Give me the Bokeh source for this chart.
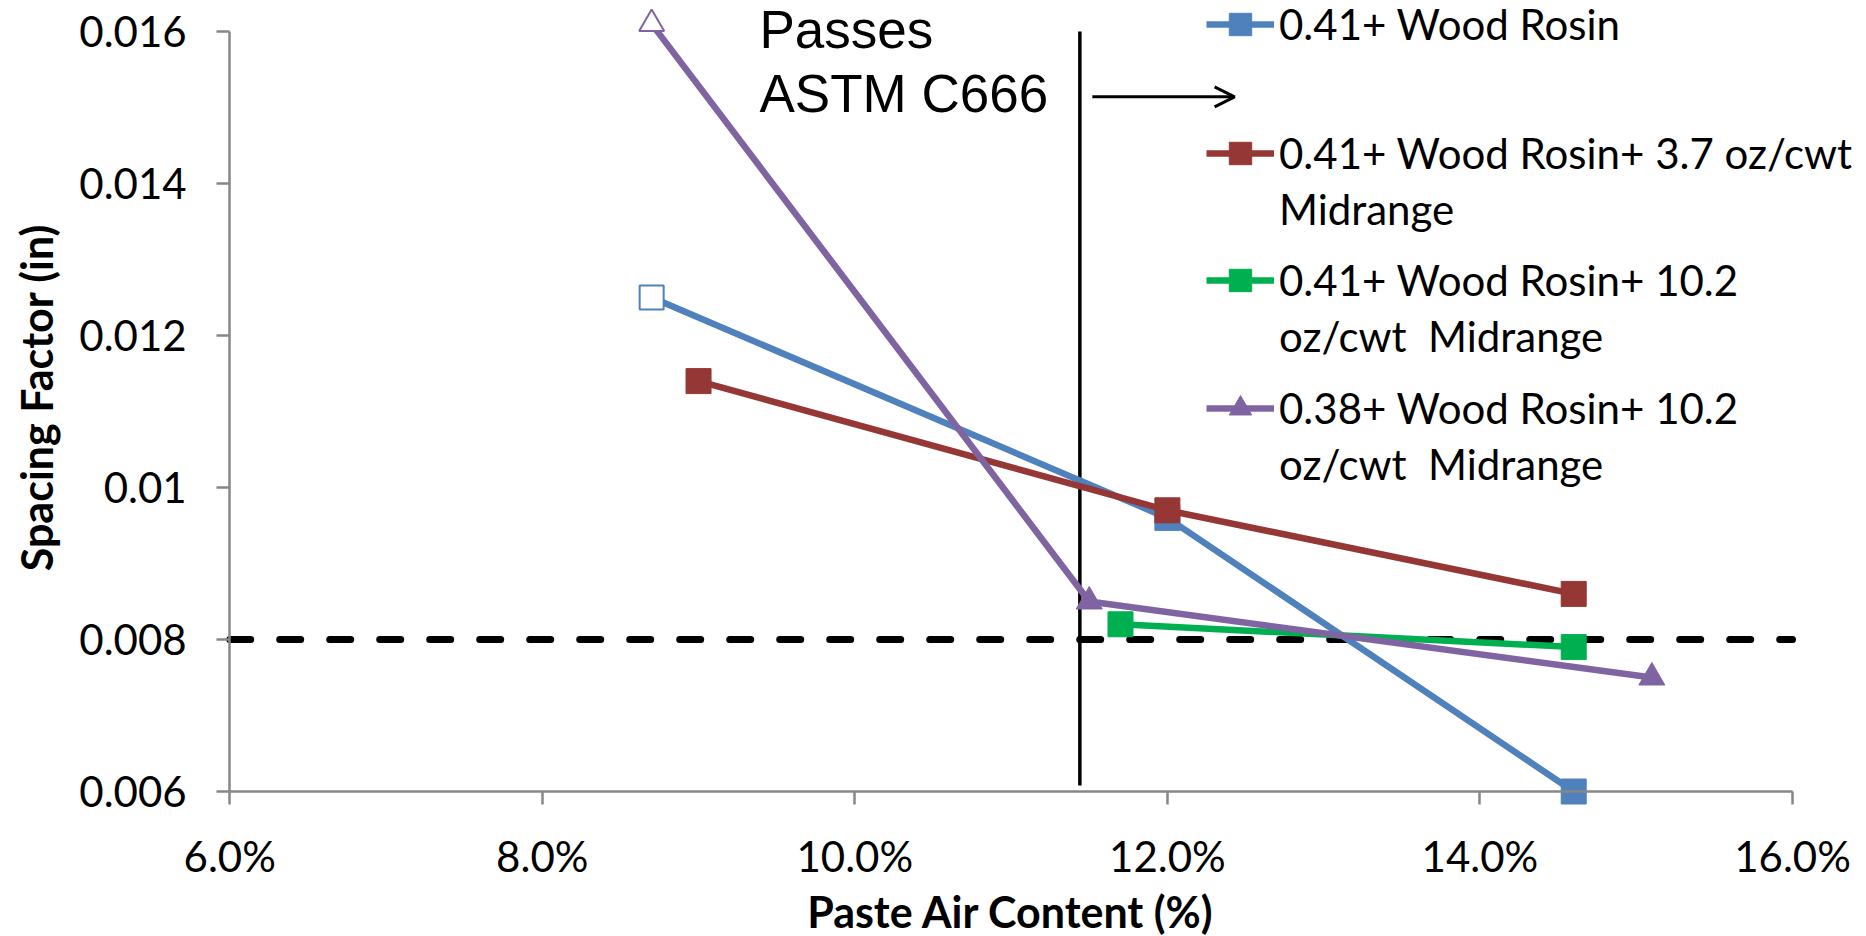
import math
from bokeh.plotting import figure
from bokeh.models import (FixedTicker, NumeralTickFormatter, Legend, LegendItem,
                          Label, Arrow, OpenHead, Range1d)
from bokeh.embed import file_html
from bokeh.resources import INLINE

# ---------------- data ----------------
s1_label = ["0.41+ Wood Rosin"]
s1_x = [0.087, 0.120, 0.146]
s1_y = [0.0125, 0.0096, 0.0060]

s2_label = ["0.41+ Wood Rosin+ 3.7 oz/cwt", "Midrange"]
s2_x = [0.090, 0.120, 0.146]
s2_y = [0.0114, 0.0097, 0.0086]

s3_label = ["0.41+ Wood Rosin+ 10.2", "oz/cwt  Midrange"]
s3_x = [0.117, 0.146]
s3_y = [0.0082, 0.0079]

s4_label = ["0.38+ Wood Rosin+ 10.2", "oz/cwt  Midrange"]
s4_x = [0.087, 0.115, 0.151]
s4_y = [0.0161, 0.0085, 0.0075]

x_ticks = [0.06, 0.08, 0.10, 0.12, 0.14, 0.16]
y_ticks = [0.006, 0.008, 0.010, 0.012, 0.014, 0.016]
y_tick_labels = ["0.006", "0.008", "0.01", "0.012", "0.014", "0.016"]

spec_limit = 0.008          # dashed limit line
passes_x = 0.1144           # vertical "passes" line
passes_y = [0.00608, 0.0160]
arrow_x = [0.1152, 0.1243]
arrow_y = 0.01514
note_lines = ["Passes", "ASTM C666"]
note_x = 0.0939
note_y = [0.016026, 0.015183]

x_axis_title = "Paste Air Content (%)"
y_axis_title = "Spacing Factor (in)"

# ---------------- style ----------------
BLUE = "#4F81BD"
RED = "#953735"
GREEN = "#00B050"
PURPLE = "#8064A2"
AXIS_GREY = "#878787"
FONT = "Lato"
FS = "42px"
TITLE_FS = "43px"
LW = 6.5

x_lo, x_hi = 0.06, 0.16
y_lo, y_hi = 0.006, 0.016
W, H = 1866, 936
yaxis_px = 229.2         # pixel column of the y axis line
xaxis_px = 791           # pixel row of the x axis line
px_per_x = (1792 - yaxis_px) / (x_hi - x_lo)
px_per_y = (xaxis_px - 31) / (y_hi - y_lo)

# the frame covers the whole canvas; both axes are pinned at the data origin
p = figure(width=W, height=H, output_backend="svg", toolbar_location=None,
           x_range=Range1d(x_lo - yaxis_px / px_per_x, x_lo + (W - yaxis_px) / px_per_x),
           y_range=Range1d(y_lo - (H - xaxis_px) / px_per_y, y_lo + xaxis_px / px_per_y),
           min_border_left=0, min_border_right=0, min_border_top=0,
           min_border_bottom=0)
p.outline_line_color = None
p.grid.visible = False
p.background_fill_color = "white"

# axes
p.xaxis.ticker = FixedTicker(ticks=x_ticks)
p.xaxis.formatter = NumeralTickFormatter(format="0.0%")
p.xaxis.bounds = (x_lo, x_hi)
p.xaxis.fixed_location = y_lo
p.yaxis.ticker = FixedTicker(ticks=y_ticks)
p.yaxis.major_label_overrides = {t: l for t, l in zip(y_ticks, y_tick_labels)}
p.yaxis.bounds = (y_lo, y_hi)
p.yaxis.fixed_location = x_lo
for ax in (p.xaxis, p.yaxis):
    ax.axis_line_color = AXIS_GREY
    ax.axis_line_width = 2.5
    ax.major_tick_line_color = AXIS_GREY
    ax.major_tick_line_width = 2.5
    ax.major_tick_out = 13
    ax.major_tick_in = 0
    ax.minor_tick_line_color = None
    ax.major_label_text_font = FONT
    ax.major_label_text_font_size = FS
    ax.major_label_text_color = "black"
p.xaxis.major_label_standoff = 26
p.yaxis.major_label_standoff = 30

# axis titles
p.add_layout(Label(x=(x_lo + x_hi) / 2, y=y_lo, y_offset=-(911 - xaxis_px),
                   text=x_axis_title, text_font=FONT, text_font_size=TITLE_FS,
                   text_font_style="bold", text_color="black",
                   text_align="center", text_baseline="middle"))
p.add_layout(Label(x=x_lo, x_offset=-(yaxis_px - 36), y=y_lo + (xaxis_px - 397) / px_per_y,
                   angle=math.pi / 2, text=y_axis_title, text_font=FONT,
                   text_font_size=TITLE_FS, text_font_style="bold", text_color="black",
                   text_align="center", text_baseline="middle"))

# reference lines
p.segment(x0=[x_lo], y0=[spec_limit], x1=[x_hi], y1=[spec_limit],
          line_color="black", line_width=7, line_dash="21 29", line_cap="round")
p.segment(x0=[passes_x], y0=[passes_y[0]], x1=[passes_x], y1=[passes_y[1]],
          line_color="black", line_width=3.5)
p.add_layout(Arrow(end=OpenHead(size=20, line_width=3, line_color="black"),
                   x_start=arrow_x[0], y_start=arrow_y, x_end=arrow_x[1], y_end=arrow_y,
                   line_width=3, line_color="black"))
for txt, yy in zip(note_lines, note_y):
    p.add_layout(Label(x=note_x, y=yy, text=txt, text_font="Liberation Sans",
                       text_font_size="53px", text_color="black",
                       text_baseline="alphabetic", text_align="left"))

# series
l1 = p.line(s1_x, s1_y, line_color=BLUE, line_width=LW, line_join="round")
m1a = p.scatter(s1_x[:1], s1_y[:1], marker="square", size=24, fill_color="white",
                line_color=BLUE, line_width=2)
m1 = p.scatter(s1_x[1:], s1_y[1:], marker="square", size=25, fill_color=BLUE, line_color=BLUE)

l2 = p.line(s2_x, s2_y, line_color=RED, line_width=LW, line_join="round")
m2 = p.scatter(s2_x, s2_y, marker="square", size=25, fill_color=RED, line_color=RED)

l3 = p.line(s3_x, s3_y, line_color=GREEN, line_width=LW, line_join="round")
m3 = p.scatter(s3_x, s3_y, marker="square", size=25, fill_color=GREEN, line_color=GREEN)

l4 = p.line(s4_x, s4_y, line_color=PURPLE, line_width=LW, line_join="round")
m4a = p.scatter(s4_x[:1], s4_y[:1], marker="triangle", size=25, fill_color="white",
                line_color=PURPLE, line_width=2)
m4 = p.scatter(s4_x[1:], s4_y[1:], marker="triangle", size=26, fill_color=PURPLE,
               line_color=PURPLE)

dummy = p.line(x=[], y=[], line_alpha=0)

# legends (one block per series, placed as in the reference)
leg_x = 1206
row_h = 56
blocks = [
    (s1_label, [l1, m1], 24),
    (s2_label, [l2, m2], 153),
    (s3_label, [l3, m3], 280),
    (s4_label, [l4, m4], 408),
]
for labels, rends, first_center in blocks:
    items = [LegendItem(label=labels[0], renderers=rends)]
    for extra in labels[1:]:
        items.append(LegendItem(label=extra, renderers=[dummy]))
    top = first_center - row_h / 2
    bottom = top + row_h * len(labels)
    leg = Legend(items=items, location=(leg_x, H - bottom),
                 border_line_alpha=0, background_fill_alpha=0,
                 padding=0, margin=0, spacing=0,
                 glyph_width=68, glyph_height=row_h, label_height=row_h,
                 label_standoff=5, label_text_font=FONT, label_text_font_size=FS,
                 label_text_color="black")
    p.add_layout(leg, "center")

open("out.html", "w").write(file_html(p, INLINE))
